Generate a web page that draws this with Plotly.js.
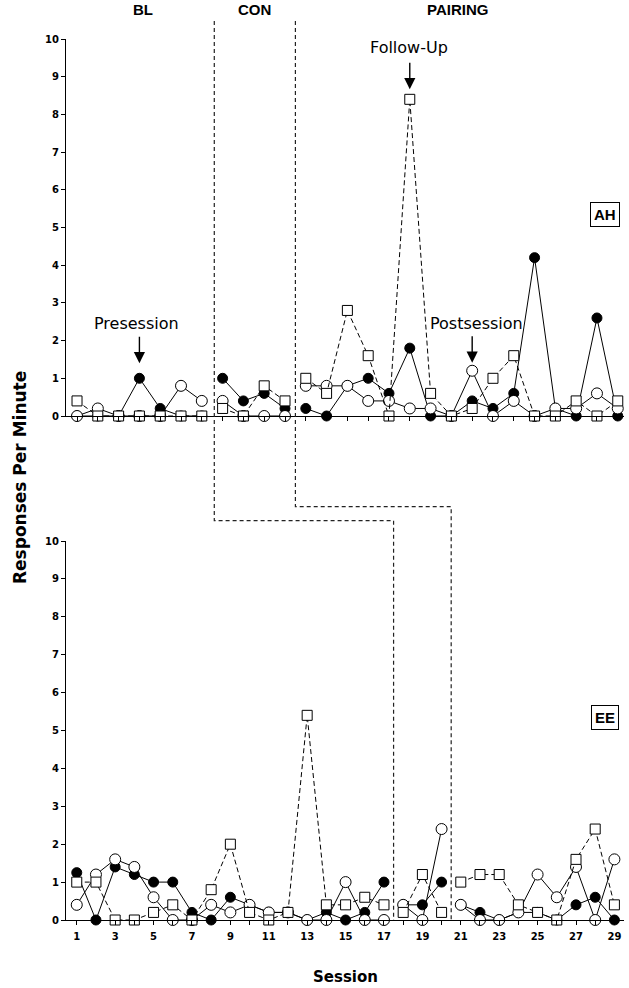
<!DOCTYPE html>
<html>
<head>
<meta charset="utf-8">
<script src="https://cdn.plot.ly/plotly-3.0.1.min.js"></script>
<style>html,body{margin:0;padding:0;background:#fff;}#chart{width:629px;height:988px;}</style>
</head>
<body>
<div id="chart"></div>
<script>
// ---- Data ----
const sessionsAH = [1,2,3,4,5,6,7,8,9,10,11,12,13,14,15,16,17,18,19,20,21,22,23,24,25,26,27];
const ahFilled = [0,0,0,1.0,0.2,0,0, 1.0,0.4,0.6,0.2, 0.2,0,0.8,1.0,0.6,1.8,0,0,0.4,0.2,0.6,4.2,0.2,0,2.6,0];
const ahOpen   = [0,0.2,0,0,0,0.8,0.4, 0.4,0,0,0, 0.8,0.8,0.8,0.4,0.4,0.2,0.2,0,1.2,0,0.4,0,0.2,0.2,0.6,0.2];
const ahSquare = [0.4,0,0,0,0,0,0, 0.2,0,0.8,0.4, 1.0,0.6,2.8,1.6,0,8.4,0.6,0,0.2,1.0,1.6,0,0,0.4,0,0.4];
const ahPhaseEnds = [7, 11];

const sessionsEE = [1,2,3,4,5,6,7,8,9,10,11,12,13,14,15,16,17,18,19,20,21,22,23,24,25,26,27,28,29];
const eeFilled = [1.25,0,1.4,1.2,1.0,1.0,0.2,0,0.6,0.4,0.2,0.2,0,0.2,0,0.2,1.0, 0.4,0.4,1.0, 0.4,0.2,0,0.2,0.2,0,0.4,0.6,0];
const eeOpen   = [0.4,1.2,1.6,1.4,0.6,0,0,0.4,0.2,0.4,0.2,0.2,0,0,1.0,0,0, 0.4,0,2.4, 0.4,0,0,0.2,1.2,0.6,1.4,0,1.6];
const eeSquare = [1.0,1.0,0,0,0.2,0.4,0,0.8,2.0,0.2,0,0.2,5.4,0.4,0.4,0.6,0.4, 0.2,1.2,0.2, 1.0,1.2,1.2,0.4,0.2,0,1.6,2.4,0.4];
const eePhaseEnds = [17, 20];

const phaseLabels = ['BL', 'CON', 'PAIRING'];
const xTickLabelsEE = sessionsEE.map(s => (s % 2 === 1 ? String(s) : ''));
const yTicks = [0,1,2,3,4,5,6,7,8,9,10];

// ---- Geometry ----
const W = 629, H = 988;
const xDom = [66 / W, 624 / W];
const topDom = [1 - 416 / H, 1 - 39 / H];
const botDom = [1 - 920 / H, 1 - 541 / H];
const topRange = [0.47, 27.3];
const botRange = [0.44, 29.5];

function withBreaks(xs, ys, ends) {
  const X = [], Y = [];
  xs.forEach((x, i) => {
    X.push(x); Y.push(ys[i]);
    if (ends.includes(x)) { X.push(x + 0.5); Y.push(null); }
  });
  return {X, Y};
}

const styles = [
  {marker: {symbol: 'circle', size: 10, color: '#000', line: {color: '#000', width: 1}}, line: {color: '#000', width: 1, dash: 'solid'}},
  {marker: {symbol: 'circle', size: 11, color: '#fff', line: {color: '#000', width: 1}}, line: {color: '#000', width: 1, dash: 'solid'}},
  {marker: {symbol: 'square', size: 10, color: '#fff', line: {color: '#000', width: 1}}, line: {color: '#000', width: 1, dash: '5px,3px'}}
];

const traces = [];
function addPanel(xs, series, ends, xa, ya) {
  series.forEach((ys, k) => {
    const b = withBreaks(xs, ys, ends);
    traces.push({
      x: b.X, y: b.Y, xaxis: xa, yaxis: ya, type: 'scatter', mode: 'lines+markers',
      connectgaps: false, cliponaxis: false, showlegend: false, hoverinfo: 'skip',
      marker: styles[k].marker, line: styles[k].line
    });
  });
}
addPanel(sessionsAH, [ahFilled, ahOpen, ahSquare], ahPhaseEnds, 'x', 'y');
addPanel(sessionsEE, [eeFilled, eeOpen, eeSquare], eePhaseEnds, 'x2', 'y2');

function px2paperX(px) { return px / W; }
function py2paperY(py) { return 1 - py / H; }
function topX(s) { return xDom[0] + (s - topRange[0]) / (topRange[1] - topRange[0]) * (xDom[1] - xDom[0]); }
function botX(s) { return xDom[0] + (s - botRange[0]) / (botRange[1] - botRange[0]) * (xDom[1] - xDom[0]); }

const phaseLineTop = [7.6, 11.5];
const phaseLineBot = [17.5, 20.5];
const stepY = [520.7, 506.7];
const dashStyle = {color: '#222', width: 1.2, dash: '4px,3px'};
const shapes = [];
for (let i = 0; i < 2; i++) {
  const xt = topX(phaseLineTop[i]), xb = botX(phaseLineBot[i]), ys = py2paperY(stepY[i]);
  shapes.push({type: 'path', xref: 'paper', yref: 'paper',
    path: `M ${xt} ${py2paperY(21)} L ${xt} ${ys} L ${xb} ${ys} L ${xb} ${py2paperY(920)}`,
    line: dashStyle});
}

const axisCommon = {showline: true, linecolor: '#000', linewidth: 1, ticks: 'outside', ticklen: 4, tickwidth: 1,
  tickcolor: '#000', showgrid: false, zeroline: false, fixedrange: true};
const tickFont = {family: 'DejaVu Sans, Verdana, sans-serif', size: 10, color: '#000', weight: 'bold'};

const annoFont = {family: 'DejaVu Sans, sans-serif', size: 16, color: '#000'};
const phaseFont = {family: 'Liberation Sans, Arial, sans-serif', size: 15, color: '#000', weight: 'bold'};
const boxFont = {family: 'Liberation Sans, Arial, sans-serif', size: 15, color: '#000', weight: 'bold'};
const titleFont = {family: 'DejaVu Sans, Verdana, sans-serif', size: 15, color: '#000', weight: 'bold'};
const C = {xanchor: 'center', yanchor: 'middle', showarrow: false};
const annotations = [
  // phase labels
  Object.assign({text: phaseLabels[0], x: px2paperX(143), y: py2paperY(9), xref: 'paper', yref: 'paper', font: phaseFont}, C),
  Object.assign({text: phaseLabels[1], x: px2paperX(254), y: py2paperY(9), xref: 'paper', yref: 'paper', font: phaseFont}, C),
  Object.assign({text: phaseLabels[2], x: px2paperX(457), y: py2paperY(9), xref: 'paper', yref: 'paper', font: phaseFont}, C),
  // arrows
  {x: 4, y: ahFilled[3], xref: 'x', yref: 'y', text: '', showarrow: true, ax: 0, ay: -43, standoff: 15,
   arrowhead: 2, arrowsize: 1.6, arrowwidth: 1.4, arrowcolor: '#000'},
  {x: 17, y: ahSquare[16], xref: 'x', yref: 'y', text: '', showarrow: true, ax: 0, ay: -38, standoff: 10,
   arrowhead: 2, arrowsize: 1.6, arrowwidth: 1.4, arrowcolor: '#000'},
  {x: 20, y: ahOpen[19], xref: 'x', yref: 'y', text: '', showarrow: true, ax: 0, ay: -36, standoff: 8,
   arrowhead: 2, arrowsize: 1.6, arrowwidth: 1.4, arrowcolor: '#000'},
  // arrow texts
  Object.assign({x: 4, y: ahFilled[3], xref: 'x', yref: 'y', text: 'Presession', yshift: 55, xshift: -3, font: annoFont}, C),
  Object.assign({x: 17, y: ahSquare[16], xref: 'x', yref: 'y', text: 'Follow-Up', yshift: 52, xshift: -1, font: annoFont}, C),
  Object.assign({x: 20, y: ahOpen[19], xref: 'x', yref: 'y', text: 'Postsession', yshift: 47, xshift: 4, font: annoFont}, C),
  // participant boxes
  Object.assign({text: 'AH', x: px2paperX(605), y: py2paperY(214), xref: 'paper', yref: 'paper', font: boxFont,
   bordercolor: '#000', borderwidth: 1, borderpad: 3, bgcolor: '#fff'}, C),
  Object.assign({text: 'EE', x: px2paperX(605), y: py2paperY(717), xref: 'paper', yref: 'paper', font: boxFont,
   bordercolor: '#000', borderwidth: 1, borderpad: 3, bgcolor: '#fff'}, C),
  // axis titles
  Object.assign({text: 'Responses Per Minute', x: px2paperX(20), y: py2paperY(478), xref: 'paper', yref: 'paper',
   textangle: -90, font: Object.assign({}, titleFont, {size: 17})}, C),
  Object.assign({text: 'Session', x: px2paperX(345), y: py2paperY(977), xref: 'paper', yref: 'paper', font: titleFont}, C)
];

const layout = {
  width: W, height: H, margin: {l: 0, r: 0, t: 0, b: 0}, paper_bgcolor: '#fff', plot_bgcolor: 'rgba(0,0,0,0)',
  showlegend: false,
  xaxis: Object.assign({}, axisCommon, {domain: xDom, range: topRange, anchor: 'y', tickvals: sessionsAH, showticklabels: false}),
  yaxis: Object.assign({}, axisCommon, {domain: topDom, range: [0, 10], anchor: 'x', tickvals: yTicks, ticktext: yTicks.map(String), tickfont: tickFont}),
  xaxis2: Object.assign({}, axisCommon, {domain: xDom, range: botRange, anchor: 'y2', tickvals: sessionsEE, ticktext: xTickLabelsEE, tickfont: tickFont, ticklabelstandoff: 3}),
  yaxis2: Object.assign({}, axisCommon, {domain: botDom, range: [0, 10], anchor: 'x2', tickvals: yTicks, ticktext: yTicks.map(String), tickfont: tickFont}),
  shapes: shapes,
  annotations: annotations
};

Plotly.newPlot('chart', traces, layout, {staticPlot: true, displayModeBar: false});
</script>
</body>
</html>
